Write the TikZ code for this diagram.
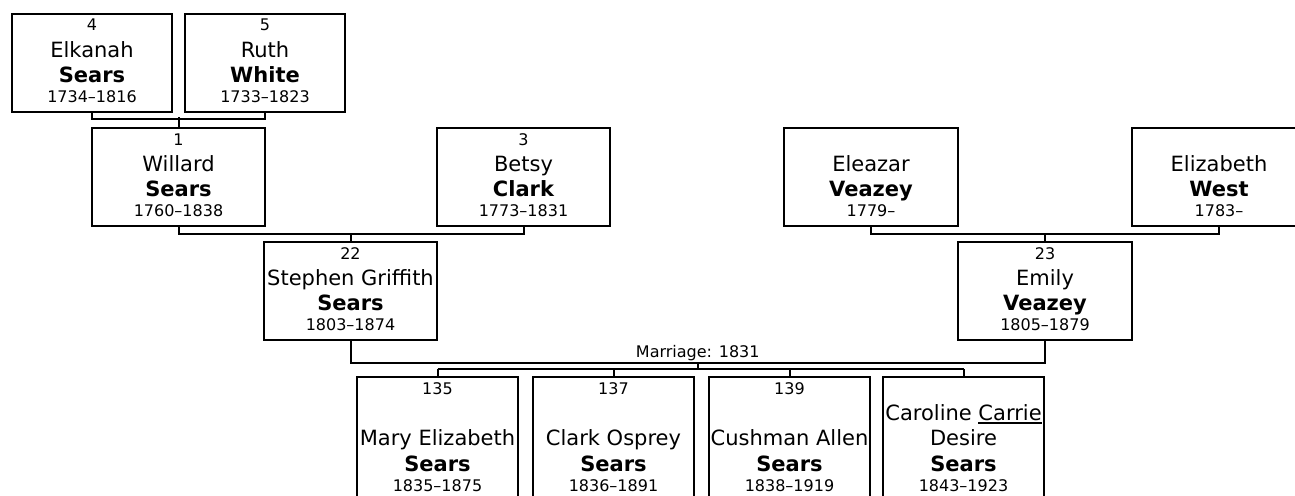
\documentclass[tikz,border=0pt]{standalone}
\usepackage{fontspec}
\setmainfont{DejaVu Sans}
\usetikzlibrary{positioning,calc}

\newcommand{\smallfnt}{\fontsize{16}{19}\selectfont}
\newcommand{\namefnt}{\fontsize{21}{25}\selectfont}
% one centred line of a card, fixed height and depth
\newcommand{\cardline}[4]{\hbox to\hsize{\hss#1\vrule height#2 depth#3 width0pt #4\hss}}
% underlined nickname
\newcommand{\nick}[1]{\setbox0\hbox{#1}\rlap{\rule[-3.5pt]{\wd0}{1.6pt}}\box0}
% ancestor card: width, number, given, surname, years
\newcommand{\elder}[5]{\vbox{\offinterlineskip\hsize=#1
  \cardline{\smallfnt}{17pt}{5pt}{#2}
  \cardline{\namefnt}{21pt}{4.5pt}{#3}
  \cardline{\namefnt\bfseries}{21pt}{4.5pt}{#4}
  \cardline{\smallfnt}{15.5pt}{9.5pt}{#5}}}
% child card: width, number, first line, given, surname, years
\newcommand{\child}[6]{\vbox{\offinterlineskip\hsize=#1
  \cardline{\smallfnt}{17pt}{5pt}{#2}
  \cardline{\namefnt}{21pt}{4.5pt}{#3}
  \cardline{\namefnt}{21pt}{4.5pt}{#4}
  \cardline{\namefnt\bfseries}{21pt}{4.5pt}{#5}
  \cardline{\smallfnt}{15.5pt}{30pt}{#6}}}

\tikzset{
  card/.style={draw, line width=2pt, inner sep=0pt, anchor=north},
  link/.style={line width=2pt},
}

\begin{document}
\begin{tikzpicture}[x=1pt,y=-1pt]
  \useasboundingbox (0,0) rectangle (1295,495);
  \clip (0,0) rectangle (1295,495);

  % grandparents
  \node[card] (p4) at (92,13) {\elder{160pt}{4}{Elkanah}{Sears}{1734--1816}};
  \node[card] (p5) at (265,13) {\elder{160pt}{5}{Ruth}{White}{1733--1823}};

  % parents
  \node[card] (p1) at (178.5,127) {\elder{173pt}{1}{Willard}{Sears}{1760--1838}};
  \node[card] (p3) at (523.5,127) {\elder{173pt}{3}{Betsy}{Clark}{1773--1831}};
  \node[card] (pEl) at (871,127) {\elder{174pt}{}{Eleazar}{Veazey}{1779--}};
  \node[card] (pEz) at (1219,127) {\elder{174pt}{}{Elizabeth}{West}{1783--}};

  % couple
  \node[card] (p22) at (350.5,241) {\elder{173pt}{22}{Stephen Griffith}{Sears}{1803--1874}};
  \node[card] (p23) at (1045,241) {\elder{174pt}{23}{Emily}{Veazey}{1805--1879}};

  % children
  \node[card] (k135) at (437.5,376) {\child{161pt}{135}{}{Mary Elizabeth}{Sears}{1835--1875}};
  \node[card, right=13pt of k135.north east, anchor=north west] (k137) {\child{161pt}{137}{}{Clark Osprey}{Sears}{1836--1891}};
  \node[card, right=13pt of k137.north east, anchor=north west] (k139) {\child{161pt}{139}{}{Cushman Allen}{Sears}{1838--1919}};
  \node[card, right=11pt of k139.north east, anchor=north west] (kcar) {\child{161pt}{}{Caroline \nick{Carrie}}{Desire}{Sears}{1843--1923}};

  % lines
  \draw[link] (p4.south) -- ++(0,6) -| (p5.south);
  \draw[link] (p1.north) -- ++(0,-10);
  \draw[link] (p1.south) -- ++(0,7) -| (p3.south);
  \draw[link] (p22.north) -- ++(0,-8);
  \draw[link] (pEl.south) -- ++(0,7) -| (pEz.south);
  \draw[link] (p23.north) -- ++(0,-8);
  \draw[link] (p22.south) -- ++(0,21.5) -| (p23.south);
  \coordinate (wedpt) at ($(p22.south)!0.5!(p23.south)+(0,21.5)$);
  \node[anchor=base, font=\smallfnt] (wed) at ($(wedpt)+(0,-4.8)$) {Marriage: 1831};
  \draw[link] (wedpt) -- ++(0,7.5);
  \draw[link] ([yshift=7pt]k135.north) -- ([yshift=7pt]kcar.north);
  \foreach \k in {k135,k137,k139,kcar}
    \draw[link] (\k.north) -- ++(0,-7);
\end{tikzpicture}
\end{document}
